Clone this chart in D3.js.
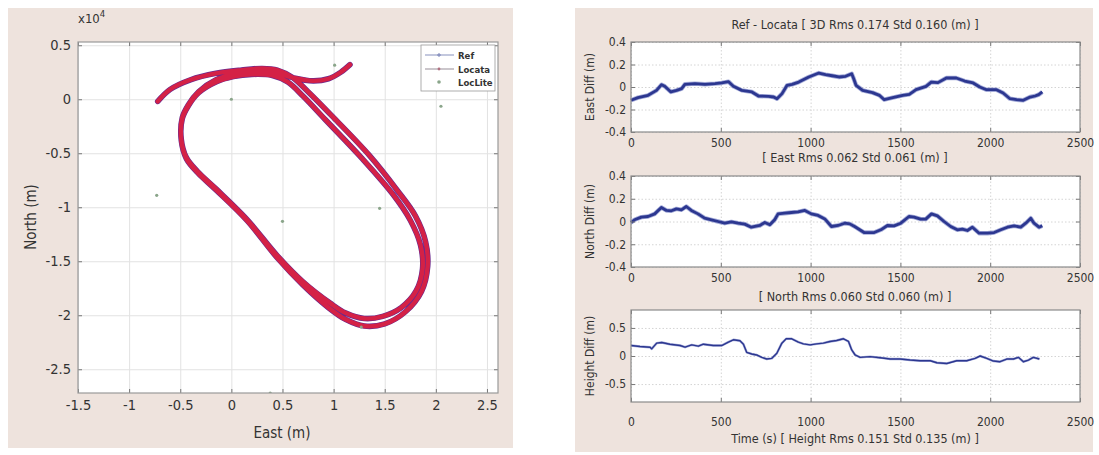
<!DOCTYPE html>
<html><head><meta charset="utf-8">
<script src="https://cdn.jsdelivr.net/npm/d3@7"></script>
<style>
body{margin:0;background:#fff;}
svg{display:block;}
text{font-family:"Liberation Sans Narrow","DejaVu Sans Condensed","Noto Sans",sans-serif;fill:#333;}
</style></head><body>
<svg id="c" width="1099" height="455"></svg>
<script>
// ---------- data ----------
// trajectory waypoints (units of 10^4 as labelled)
const trackEast  = [-0.72,-0.60,-0.40,-0.15,0.10,0.30,0.45,0.60,0.75,1.00,1.35,1.62,1.80,1.90,1.92,1.86,1.70,1.50,1.30,1.12,0.95,0.70,0.45,0.15,-0.15,-0.33,-0.44,-0.49,-0.48,-0.42,-0.32,-0.15,0.02,0.20,0.40,0.55,
                    0.70,0.92,1.28,1.58,1.75,1.85,1.87,1.81,1.66,1.48,1.30,1.12,0.97,0.70,0.45,0.15,-0.15,-0.33,-0.44,-0.49,-0.48,-0.42,-0.32,-0.15,0.05,0.25,0.42,0.60,0.80,0.95,1.07,1.16];
const trackNorth = [-0.02,0.09,0.18,0.24,0.27,0.285,0.27,0.20,0.07,-0.17,-0.52,-0.84,-1.08,-1.32,-1.55,-1.78,-1.97,-2.08,-2.10,-2.04,-1.93,-1.72,-1.47,-1.12,-0.84,-0.68,-0.55,-0.38,-0.18,-0.06,0.06,0.16,0.21,0.23,0.22,0.16,
                    0.03,-0.19,-0.55,-0.88,-1.12,-1.35,-1.57,-1.77,-1.93,-2.01,-2.03,-1.98,-1.89,-1.69,-1.45,-1.11,-0.83,-0.67,-0.54,-0.37,-0.17,-0.05,0.07,0.18,0.24,0.27,0.25,0.20,0.17,0.19,0.25,0.32];
const locLiteEast  = [-0.73,0.00,0.50,1.45,2.05,1.01,0.38,1.27];
const locLiteNorth = [-0.89,0.00,-1.13,-1.01,-0.065,0.315,-2.72,-2.11];
const legendLabels = ["Ref","Locata","LocLite"];
const mapXTicks = [-1.5,-1,-0.5,0,0.5,1,1.5,2,2.5];
const mapYTicks = [-2.5,-2,-1.5,-1,-0.5,0,0.5];

const eastTime = [0,39,95,142,170,188,222,254,282,300,356,412,468,505,543,570,617,673,710,766,794,813,841,869,897,934,990,1046,1083,1120,1158,1195,1229,1240,1253,1290,1345,1383,1410,1457,1513,1550,1587,1643,1672,1709,1756,1811,1858,1905,1942,1979,2035,2072,2110,2147,2184,2222,2250,2270,2290];
const eastDiff = [-0.118,-0.095,-0.074,-0.03,0.021,0.006,-0.044,-0.03,-0.015,0.024,0.03,0.024,0.03,0.036,0.047,0.006,-0.03,-0.044,-0.08,-0.083,-0.089,-0.104,-0.059,0.015,0.024,0.044,0.089,0.124,0.11,0.10,0.089,0.095,0.118,0.074,0.015,-0.03,-0.05,-0.074,-0.113,-0.095,-0.074,-0.065,-0.024,0.006,0.044,0.039,0.08,0.08,0.053,0.036,0.0,-0.024,-0.024,-0.053,-0.104,-0.113,-0.118,-0.089,-0.08,-0.068,-0.044];
const northTime = [0,20,58,95,132,169,197,225,253,281,308,336,373,410,448,485,522,559,596,633,670,717,745,773,800,819,856,893,930,968,1004,1042,1079,1116,1153,1190,1218,1245,1298,1354,1391,1428,1465,1502,1548,1576,1613,1641,1673,1706,1743,1780,1817,1845,1873,1901,1938,1985,2022,2059,2096,2133,2170,2198,2226,2244,2272,2290];
const northDiff = [-0.009,0.015,0.038,0.044,0.067,0.123,0.097,0.094,0.111,0.103,0.132,0.097,0.067,0.029,0.015,0.0,-0.015,-0.003,-0.015,-0.023,-0.05,-0.035,-0.009,-0.029,0.015,0.067,0.073,0.079,0.085,0.097,0.067,0.053,0.023,-0.044,-0.035,-0.015,-0.021,-0.044,-0.097,-0.097,-0.073,-0.035,-0.038,-0.015,0.044,0.038,0.021,0.021,0.067,0.05,0.0,-0.044,-0.073,-0.067,-0.079,-0.05,-0.103,-0.103,-0.097,-0.073,-0.05,-0.038,-0.05,-0.015,0.029,-0.015,-0.05,-0.038];
const heightTime = [0,50,106,115,143,171,217,273,301,338,375,403,458,505,542,570,607,626,644,672,700,728,756,784,812,840,864,895,932,960,997,1034,1071,1108,1145,1183,1211,1229,1248,1276,1331,1387,1443,1498,1554,1610,1666,1703,1759,1814,1870,1916,1944,1981,2018,2055,2092,2129,2157,2185,2213,2240,2274];
const heightDiff = [0.187,0.169,0.157,0.127,0.229,0.241,0.21,0.187,0.157,0.199,0.175,0.21,0.187,0.187,0.247,0.289,0.271,0.21,0.066,0.036,0.018,-0.024,-0.054,-0.042,0.048,0.229,0.307,0.307,0.247,0.217,0.199,0.217,0.229,0.259,0.277,0.307,0.259,0.108,0.018,-0.024,-0.012,-0.03,-0.054,-0.054,-0.072,-0.084,-0.084,-0.12,-0.133,-0.084,-0.084,-0.042,0.0,-0.042,-0.09,-0.102,-0.054,-0.054,-0.024,-0.102,-0.072,-0.024,-0.054];
const timeTicks = [0,500,1000,1500,2000,2500];
const diffTicks = [-0.4,-0.2,0,0.2,0.4];
const heightTicks = [-0.5,0,0.5];
const titles = {
  top: "Ref - Locata [ 3D Rms 0.174 Std 0.160 (m) ]",
  east: "[ East Rms 0.062 Std 0.061 (m) ]",
  north: "[ North Rms 0.060 Std 0.060 (m) ]",
  height: "Time (s) [ Height Rms 0.151 Std 0.135 (m) ]"
};

// ---------- drawing ----------
const svg = d3.select("#c");
const BG = "#eee3dd";
svg.append("rect").attr("x",8).attr("y",8).attr("width",505).attr("height",440).attr("fill",BG);
svg.append("rect").attr("x",575).attr("y",8).attr("width",518).attr("height",444).attr("fill",BG);

function frameAxes(g, x, y, xt, yt, opt){
  const [x0,x1] = x.range(), [y0,y1] = y.range();
  const w = x1-x0, h = y0-y1;
  g.append("rect").attr("x",x0).attr("y",y1).attr("width",w).attr("height",h).attr("fill","#fff");
  const gg = g.append("g");
  gg.append("g").attr("transform",`translate(0,${y0})`).call(d3.axisBottom(x).tickValues(xt).tickSize(-h).tickFormat(""))
    .call(s=>{s.select(".domain").remove(); s.selectAll("line").attr("stroke",opt.grid).attr("stroke-dasharray",opt.dash||null);});
  gg.append("g").attr("transform",`translate(${x0},0)`).call(d3.axisLeft(y).tickValues(yt).tickSize(-w).tickFormat(""))
    .call(s=>{s.select(".domain").remove(); s.selectAll("line").attr("stroke",opt.grid).attr("stroke-dasharray",opt.dash||null);});
}
function tickAxes(g, x, y, xt, yt, opt){
  const [x0,x1] = x.range(), [y0,y1] = y.range();
  const bx = g.append("g").attr("transform",`translate(0,${y0})`)
    .call(d3.axisBottom(x).tickValues(xt).tickSizeInner(-4).tickSizeOuter(0).tickPadding(opt.xpad).tickFormat(d=>String(d)));
  const tx = g.append("g").attr("transform",`translate(0,${y1})`)
    .call(d3.axisTop(x).tickValues(xt).tickSizeInner(-4).tickSizeOuter(0).tickFormat(""));
  const ly = g.append("g").attr("transform",`translate(${x0},0)`)
    .call(d3.axisLeft(y).tickValues(yt).tickSizeInner(-4).tickSizeOuter(0).tickPadding(opt.ypad).tickFormat(d=>String(d)));
  const ry = g.append("g").attr("transform",`translate(${x1},0)`)
    .call(d3.axisRight(y).tickValues(yt).tickSizeInner(-4).tickSizeOuter(0).tickFormat(""));
  [bx,tx,ly,ry].forEach(a=>{
    a.select(".domain").remove();
    a.selectAll("line").attr("stroke","#777");
    a.selectAll("text").attr("font-size",opt.fs).attr("fill","#333").style("font-family",null);
  });
  g.append("rect").attr("x",x0).attr("y",y1).attr("width",x1-x0).attr("height",y0-y1)
    .attr("fill","none").attr("stroke",opt.border).attr("stroke-width",1.2);
}

// ---- left: trajectory ----
const mx = d3.scaleLinear().domain([-1.5,2.608]).range([78,498]);
const my = d3.scaleLinear().domain([-2.72,0.53]).range([393,42]);
const gm = svg.append("g");
frameAxes(gm, mx, my, mapXTicks, mapYTicks, {grid:"#e2e2e2"});
svg.append("clipPath").attr("id","mclip").append("rect").attr("x",78).attr("y",42).attr("width",420).attr("height",351);
const track = d3.range(trackEast.length).map(i=>[trackEast[i],trackNorth[i]]);
const lineM = d3.line().x(d=>mx(d[0])).y(d=>my(d[1])).curve(d3.curveCatmullRom.alpha(0.5));
const gt = gm.append("g").attr("clip-path","url(#mclip)");
gt.append("path").attr("d",lineM(track)).attr("fill","none").attr("stroke","#6a2a8e").attr("stroke-width",5.6).attr("stroke-linecap","round").attr("stroke-linejoin","round");
gt.append("path").attr("d",lineM(track)).attr("fill","none").attr("stroke","#e3203c").attr("stroke-width",4.4).attr("stroke-opacity",0.88).attr("stroke-linecap","round").attr("stroke-linejoin","round");
gt.selectAll("circle.ll").data(d3.range(locLiteEast.length)).join("circle")
  .attr("cx",i=>mx(locLiteEast[i])).attr("cy",i=>my(locLiteNorth[i])).attr("r",1.6).attr("fill","#8aa58a");
tickAxes(gm, mx, my, mapXTicks, mapYTicks, {fs:14.5, xpad:7, ypad:7, border:"#999"});
gm.append("text").attr("x",78).attr("y",23).attr("font-size",13).text("x10").append("tspan").attr("dy",-6).attr("font-size",9.5).text("4");
gm.append("text").attr("x",282).attr("y",438).attr("text-anchor","middle").attr("font-size",15).text("East (m)");
gm.append("text").attr("transform","translate(36,217) rotate(-90)").attr("text-anchor","middle").attr("font-size",15).text("North (m)");
// legend
const lg = gm.append("g").attr("transform","translate(421,45)");
lg.append("rect").attr("width",74).attr("height",46).attr("fill","#fff").attr("stroke","#999").attr("stroke-width",0.8);
const lrow = [10,24,37];
lg.append("line").attr("x1",4).attr("x2",33).attr("y1",lrow[0]).attr("y2",lrow[0]).attr("stroke","#9aa3c8").attr("stroke-width",1.2);
lg.append("path").attr("d",`M16,${lrow[0]}h4M18,${lrow[0]-2}v4`).attr("stroke","#7a84b8").attr("stroke-width",1);
lg.append("line").attr("x1",4).attr("x2",33).attr("y1",lrow[1]).attr("y2",lrow[1]).attr("stroke","#a8a0a8").attr("stroke-width",1.2);
lg.append("circle").attr("cx",18).attr("cy",lrow[1]).attr("r",1.4).attr("fill","#b07080");
lg.append("circle").attr("cx",18).attr("cy",lrow[2]).attr("r",1.8).attr("fill","#8aa58a");
lg.selectAll("text.l").data(legendLabels).join("text").attr("x",37).attr("y",(d,i)=>lrow[i]+3.5)
  .attr("font-size",9.5).attr("font-weight","bold").attr("fill","#444").text(d=>d);

// ---- right: time series ----
function tsPlot(top, bottom, domY, yt, times, vals, ylabel, opt){
  const x = d3.scaleLinear().domain([0,2500]).range([631,1080]);
  const y = d3.scaleLinear().domain(domY).range([bottom,top]);
  const g = svg.append("g");
  frameAxes(g, x, y, timeTicks, yt, {grid:"#d4d4d4", dash:"1.5,2"});
  const pts = d3.range(times.length).map(i=>[times[i],vals[i]]);
  const ln = d3.line().x(d=>x(d[0])).y(d=>y(d[1]));
  g.append("path").attr("d",ln(pts)).attr("fill","none").attr("stroke","#7d88c8").attr("stroke-width",opt.halo).attr("stroke-opacity",0.7).attr("stroke-linejoin","round");
  g.append("path").attr("d",ln(pts)).attr("fill","none").attr("stroke","#2c3790").attr("stroke-width",opt.sw).attr("stroke-linejoin","round");
  tickAxes(g, x, y, timeTicks, yt, {fs:12, xpad:opt.xpad, ypad:5, border:"#8a8a8a"});
  g.append("text").attr("transform",`translate(594,${(top+bottom)/2}) rotate(-90)`).attr("text-anchor","middle").attr("font-size",12).text(ylabel);
}
tsPlot(42,132,[-0.4,0.4],diffTicks,eastTime,eastDiff,"East Diff (m)",{sw:2.8,halo:4.4,xpad:6});
tsPlot(176,267,[-0.4,0.4],diffTicks,northTime,northDiff,"North Diff (m)",{sw:2.8,halo:4.4,xpad:6});
tsPlot(310,402,[-0.82,0.82],heightTicks,heightTime,heightDiff,"Height Diff (m)",{sw:1.4,halo:2.4,xpad:15});
const tx = 855;
svg.append("text").attr("x",tx).attr("y",29).attr("text-anchor","middle").attr("font-size",12.5).text(titles.top);
svg.append("text").attr("x",tx).attr("y",162).attr("text-anchor","middle").attr("font-size",12.5).text(titles.east);
svg.append("text").attr("x",tx).attr("y",301).attr("text-anchor","middle").attr("font-size",12.5).text(titles.north);
svg.append("text").attr("x",tx).attr("y",443).attr("text-anchor","middle").attr("font-size",12.5).text(titles.height);
</script>
</body></html>
